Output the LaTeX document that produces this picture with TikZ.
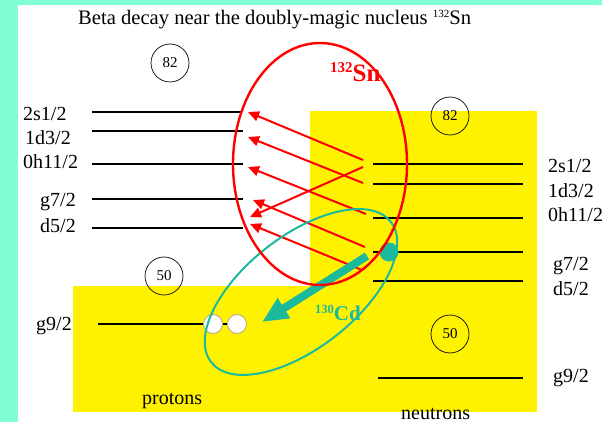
\documentclass[tikz,border=0pt]{standalone}
\usepackage{fontspec}
\setmainfont{Liberation Serif}
\usetikzlibrary{arrows.meta}
\definecolor{aquabg}{RGB}{128,255,212}
\definecolor{cdteal}{RGB}{28,186,156}
\definecolor{holeedge}{RGB}{176,164,128}
\newcommand{\supnum}[3]{\raisebox{#2}{\fontsize{#1}{#1}\selectfont #3}}
\tikzset{
      levelline/.style={line width=2.8pt},
      levellabel/.style={
        anchor=base west,
        inner sep=0pt,
        font=\fontsize{20}{24}\selectfont
      },
      magicbox/.style={
        circle,
        draw,
        line width=0.7pt,
        minimum size=38pt,
        inner sep=0pt,
        font=\fontsize{15}{15}\selectfont
      },
      betaarrow/.style={red, line width=2pt, -{Triangle[length=11pt,width=10pt]}},
      holebox/.style={circle, draw=holeedge, line width=0.8pt, fill=white, minimum size=19pt, inner sep=0pt}
    }
\begin{document}
\begin{tikzpicture}[x=1pt,y=-1pt]
    \useasboundingbox (0,0) rectangle (602,422);
    \fill[aquabg] (0,0) rectangle (602,422);
    \fill[white] (18,5) rectangle (602,422);
    \fill[yellow] (310,111) rectangle (537,412);
    \fill[yellow] (73,286) rectangle (310,412);
    \node[levellabel, font=\fontsize{20.6}{24}\selectfont] (title) at (78,25) {Beta decay near the doubly-magic nucleus \supnum{11}{7pt}{132}Sn};
    \draw[levelline] (92,112) -- (242,112);
    \draw[levelline] (92,131) -- (243,131);
    \draw[levelline] (92,164) -- (243,164);
    \draw[levelline] (92,199) -- (243,199);
    \draw[levelline] (92,228) -- (243,228);
    \draw[levelline] (98,324) -- (230,324);
    \draw[levelline] (373,164) -- (523,164);
    \draw[levelline] (373,184) -- (523,184);
    \draw[levelline] (373,218) -- (523,218);
    \draw[levelline] (373,252) -- (523,252);
    \draw[levelline] (373,281) -- (523,281);
    \draw[levelline] (378,378) -- (523,378);
    \node[levellabel] (p2s) at (23,121) {2s1/2};
    \node[levellabel] (p1d) at (25,145) {1d3/2};
    \node[levellabel] (p0h) at (23,169) {0h11/2};
    \node[levellabel] (pg7) at (40,207) {g7/2};
    \node[levellabel] (pd5) at (40,232) {d5/2};
    \node[levellabel] (pg9) at (36,330) {g9/2};
    \node[levellabel] (n2s) at (548,173) {2s1/2};
    \node[levellabel] (n1d) at (548,197) {1d3/2};
    \node[levellabel] (n0h) at (548,222) {0h11/2};
    \node[levellabel] (ng7) at (553,270) {g7/2};
    \node[levellabel] (nd5) at (553,295) {d5/2};
    \node[levellabel] (ng9) at (553,382) {g9/2};
    \node[levellabel] (protons) at (142,404) {protons};
    \node[levellabel] (neutrons) at (401,419) {neutrons};
    \node[magicbox] (pmagic82) at (170,63) {82};
    \node[magicbox] (nmagic82) at (450,116) {82};
    \node[magicbox] (pmagic50) at (164,276) {50};
    \node[magicbox] (nmagic50) at (450,334) {50};
    \node[holebox] (hole1) at (213,324) {};
    \node[holebox] (hole2) at (237,324) {};
    \coordinate (nu1) at (363,160);
    \coordinate (nu2) at (363,183);
    \coordinate (nu3) at (363,167);
    \coordinate (nu4) at (366,214);
    \coordinate (nu5) at (365,247);
    \coordinate (nu6) at (362,270);
    \coordinate (pi1) at (248,112);
    \coordinate (pi2) at (248,137);
    \coordinate (pi3) at (250,217);
    \coordinate (pi4) at (248,167);
    \coordinate (pi5) at (253,200);
    \coordinate (pi6) at (250,224);
    \draw[betaarrow] (nu1) -- (pi1);
    \draw[betaarrow] (nu2) -- (pi2);
    \draw[betaarrow] (nu3) -- (pi3);
    \draw[betaarrow] (nu4) -- (pi4);
    \draw[betaarrow] (nu5) -- (pi5);
    \draw[betaarrow] (nu6) -- (pi6);
    \node[levellabel, text=red, font=\bfseries\fontsize{25}{28}\selectfont] (snlabel) at (330,82) {\supnum{15}{9pt}{132}Sn};
    \draw[cdteal, line width=2pt, rotate around={38:(301,292)}] (301,292) ellipse [x radius=114, y radius=56];
    \node[circle, fill=cdteal, minimum size=19pt, inner sep=0pt] (nhole) at (389,252) {};
    \coordinate (cdtail) at (367,256);
    \coordinate (cdtip) at (262,322);
    \draw[cdteal, line width=8pt, -{Triangle[length=26pt,width=22pt]}] (cdtail) -- (cdtip);
    \draw[red, line width=2.4pt] (320,164) ellipse [x radius=87, y radius=121];
    \node[levellabel, text=cdteal, font=\bfseries\fontsize{21}{24}\selectfont] (cdlabel) at (315,320) {\supnum{12.5}{7pt}{130}Cd};
    \end{tikzpicture}
\end{document}
